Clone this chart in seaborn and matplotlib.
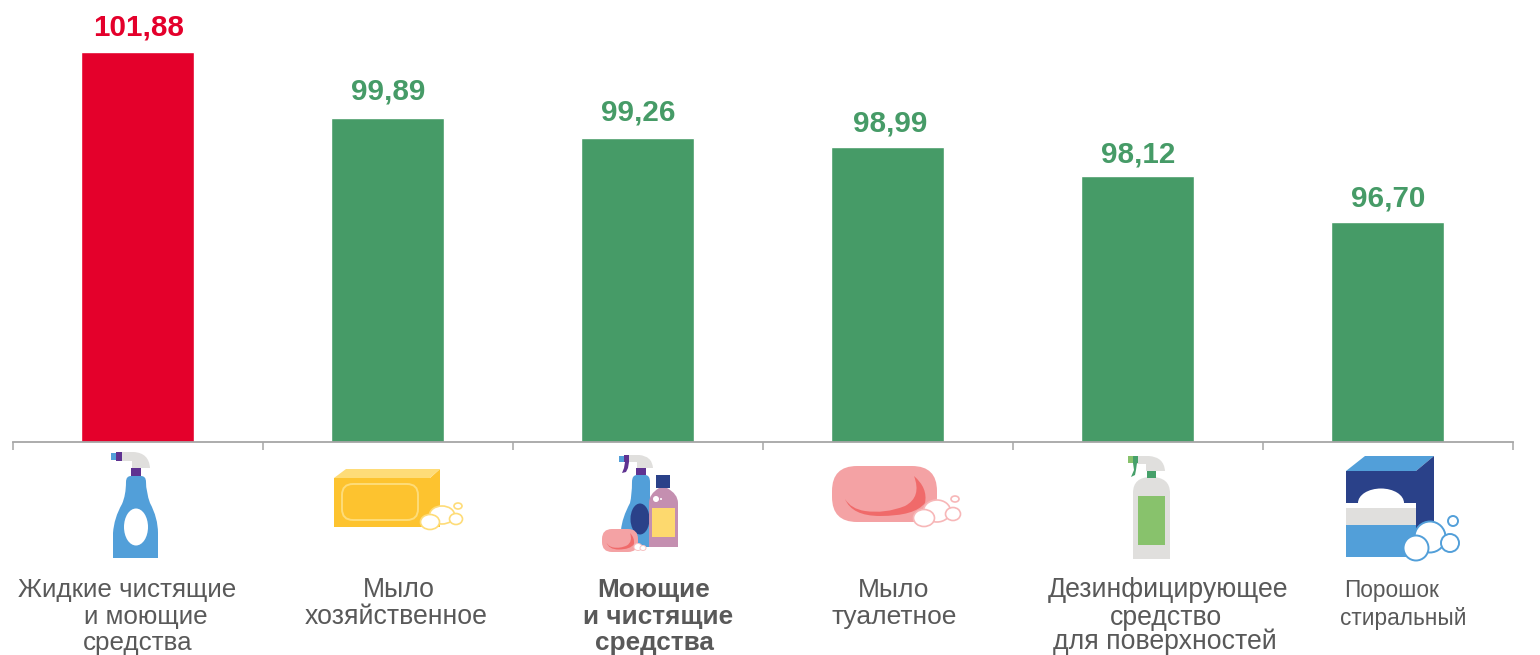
import matplotlib
matplotlib.use('Agg')
import matplotlib.pyplot as plt
import seaborn as sns
import pandas as pd
from matplotlib.patches import Polygon, Ellipse, Rectangle, FancyBboxPatch, PathPatch
from matplotlib.path import Path

# Data
categories = ['Жидкие чистящие и моющие средства', 'Мыло хозяйственное',
              'Моющие и чистящие средства', 'Мыло туалетное',
              'Дезинфицирующее средство для поверхностей', 'Порошок стиральный']
values = [101.88, 99.89, 99.26, 98.99, 98.12, 96.70]
value_labels = ['101,88', '99,89', '99,26', '98,99', '98,12', '96,70']
label_lines = [['Жидкие чистящие', 'и моющие', 'средства'],
               ['Мыло', 'хозяйственное'],
               ['Моющие', 'и чистящие', 'средства'],
               ['Мыло', 'туалетное'],
               ['Дезинфицирующее', 'средство', 'для поверхностей'],
               ['Порошок', 'стиральный']]

# Layout of the hand placed captions (pixels)
line_x = [[127, 146, 138], [399, 396], [654, 658, 654], [894, 894], [1168, 1166, 1165], [1392, 1403]]
line_y = [[590, 617, 643], [590, 617], [590, 617, 643], [590, 617], [590, 618, 642], [591, 619]]
line_size = [18.7, 19.2, 18.8, 19, 19.2, 16.3]
label_gap = [25, 26, 26, 24, 21, 24]
label_shift = [1, 1, 1, 3, 1, 1]

RED = '#E4002B'
GREEN = '#469B67'
GREY = '#595959'
BLUE = '#529FD9'
NAVY = '#2A4189'
PURPLE = '#5F3291'
LIGHT = '#E0DFDD'
PINK = '#F4A2A4'
DARKPINK = '#F06A6A'
YELLOW = '#FDC32F'
PALEYELLOW = '#FEDC78'

sns.set_theme(style='white')
plt.rcParams['font.family'] = ['Liberation Sans', 'DejaVu Sans']

fig = plt.figure(figsize=(15.4, 6.55), dpi=100)
ax = fig.add_axes([13 / 1540, (655 - 442) / 655, 1500 / 1540, 442 / 655])

df = pd.DataFrame({'category': categories, 'value': values})
colors = [RED] + [GREEN] * 5
sns.barplot(data=df, x='category', y='value', hue='category', palette=colors,
            legend=False, width=0.452, saturation=1, ax=ax)

ax.set_ylim(90, 103.48)
ax.set_xlim(-0.497, 5.503)
ax.set_xlabel('')
ax.set_ylabel('')
ax.set_yticks([])
ax.set_xticks([i - 0.497 for i in range(7)])
ax.set_xticklabels([])
ax.tick_params(axis='x', bottom=True, length=6, width=1.1, color='#A6A6A6')
sns.despine(ax=ax, left=True)
ax.spines['bottom'].set_color('#A6A6A6')
ax.spines['bottom'].set_linewidth(1.3)
ax.patch.set_alpha(0)

for i, (v, lab) in enumerate(zip(values, value_labels)):
    ax.annotate(lab, (i, v), xytext=(label_shift[i] * 0.72, label_gap[i] * 0.72), textcoords='offset points',
                ha='center', va='center', fontsize=21.3, fontweight='bold', color=colors[i])

# Overlay in pixel coordinates for captions and pictograms
ov = fig.add_axes([0, 0, 1, 1])
ov.set_xlim(0, 1540)
ov.set_ylim(655, 0)
ov.axis('off')
ov.patch.set_alpha(0)

for i, lines in enumerate(label_lines):
    for j, line in enumerate(lines):
        ov.text(line_x[i][j], line_y[i][j], line, ha='center', va='center',
                fontsize=line_size[i], color=GREY, fontweight='bold' if i == 2 else 'normal')


def poly(pts, color):
    ov.add_patch(Polygon(pts, closed=True, fc=color, ec='none'))


def rect(x0, y0, x1, y1, color):
    ov.add_patch(Rectangle((x0, y0), x1 - x0, y1 - y0, fc=color, ec='none'))


def oval(cx, cy, w, h, color, ec='none', lw=1.2):
    ov.add_patch(Ellipse((cx, cy), w, h, fc=color, ec=ec, lw=lw))


def rounded(x0, y0, x1, y1, r, fc, ec='none', lw=1.0):
    ov.add_patch(FancyBboxPatch((x0 + r, y0 + r), x1 - x0 - 2 * r, y1 - y0 - 2 * r,
                                boxstyle='round,pad=%g,rounding_size=%g' % (r, r),
                                fc=fc, ec=ec, lw=lw))


def curve(verts, codes, color):
    ov.add_patch(PathPatch(Path(verts, codes), fc=color, ec='none'))


M, L, C3, Z = Path.MOVETO, Path.LINETO, Path.CURVE3, Path.CLOSEPOLY


def spray_head(x0, x1, y0, y1, xn, yn, color):
    xm = x0 + 0.42 * (x1 - x0)
    curve([(x0, y0), (xm, y0), (x1 - 1, y0 + 1), (x1, y1), (xn, y1), (xn, yn), (x0, yn), (x0, y0)],
          [M, L, C3, C3, L, L, L, Z], color)


# crescent of the soap bar, in pixels of the big pictogram
cres_pts = [(845, 499), (852, 516), (880, 516), (915, 516), (925, 503), (928, 488), (914, 476),
            (922, 497), (905, 506), (885, 514), (865, 511), (851, 509), (845, 499)]
cres_codes = [M, C3, C3, C3, C3, C3, C3, C3, C3, C3, C3, C3, C3]


def crescent(x0, y0, sx, sy):
    curve([(x0 + (x - 832) * sx, y0 + (y - 466) * sy) for x, y in cres_pts], cres_codes, DARKPINK)


# Icon 1 - spray bottle
curve([(113, 558), (113, 533), (114, 518), (122, 504), (126, 495), (126, 482), (126, 476), (131, 476),
       (141, 476), (146, 476), (146, 482), (146, 492), (150, 503), (158, 518), (158, 533), (158, 558), (113, 558)],
      [M, L, C3, C3, C3, C3, C3, C3, L, C3, C3, C3, C3, C3, C3, L, Z], BLUE)
oval(136, 527, 24, 37, 'white')
rect(131, 468, 141, 476, PURPLE)
spray_head(122, 150, 452, 468, 132, 461, LIGHT)
rect(116, 452, 122, 461, PURPLE)
rect(111, 453, 116, 460, BLUE)

# Icon 2 - laundry soap
rect(334, 478, 430, 527, YELLOW)
poly([(430, 478), (440, 469), (440, 527), (430, 527)], YELLOW)
poly([(334, 478), (346, 469), (440, 469), (430, 478)], PALEYELLOW)
rounded(342, 484, 418, 520, 11, 'none', ec=PALEYELLOW, lw=1.4)
oval(442, 515, 25, 18, 'white', PALEYELLOW)
oval(430, 522, 19, 15, 'white', PALEYELLOW)
oval(456, 519, 13, 11, 'white', PALEYELLOW)
oval(458, 506, 8, 6, 'white', PALEYELLOW)

# Icon 3 - group of products
curve([(621, 547), (621, 530), (622, 518), (630, 503), (632, 495), (632, 482), (632, 475), (637, 475),
       (645, 475), (650, 475), (650, 482), (650, 547), (621, 547)],
      [M, L, C3, C3, C3, C3, C3, C3, L, C3, C3, L, Z], BLUE)
oval(640, 519, 19, 31, NAVY)
rect(636, 468, 646, 475, PURPLE)
spray_head(629, 653, 455, 468, 637, 462, LIGHT)
rect(624, 455, 629, 462, PURPLE)
rect(619, 456, 624, 462, BLUE)
poly([(625, 462), (629, 462), (628, 468), (626, 472), (622, 473), (624, 468)], PURPLE)
rect(656, 475, 670, 488, NAVY)
curve([(649, 547), (649, 503), (649, 494), (659, 488), (667, 488), (678, 494), (678, 503), (678, 547), (649, 547)],
      [M, L, C3, C3, L, C3, C3, L, Z], '#C48FB0')
rect(652, 508, 675, 537, '#FDD96E')
oval(656, 499, 6, 6, 'white')
oval(661, 499, 2, 2, 'white')
rounded(602, 529, 638, 552, 10, PINK)
crescent(602, 529, 0.343, 0.41)
oval(638, 547, 8, 7, 'white', '#F7C3C4', 0.7)
oval(643, 548, 6, 5, 'white', '#F7C3C4', 0.7)

# Icon 4 - toilet soap
rounded(832, 466, 937, 522, 25, PINK)
crescent(832, 466, 1, 1)
oval(937, 511, 27, 22, 'white', '#F7B7B8')
oval(924, 518, 21, 17, 'white', '#F7B7B8')
oval(953, 514, 15, 13, 'white', '#F7B7B8')
oval(955, 499, 8, 6, 'white', '#F7B7B8')

# Icon 5 - disinfectant
curve([(1133, 559), (1133, 493), (1133, 477), (1151, 477), (1170, 477), (1170, 493), (1170, 559), (1133, 559)],
      [M, L, C3, C3, C3, C3, L, Z], LIGHT)
rect(1138, 496, 1165, 545, '#88C26C')
rect(1147, 471, 1156, 478, '#46A06A')
spray_head(1137, 1165, 456, 471, 1146, 464, LIGHT)
rect(1128, 456, 1133, 463, '#88C26C')
rect(1133, 456, 1138, 463, '#46A06A')
poly([(1133, 463), (1137, 463), (1136, 470), (1135, 475), (1131, 477), (1134, 470)], '#46A06A')

# Icon 6 - washing powder
poly([(1346, 471), (1365, 456), (1434, 456), (1416, 471)], BLUE)
poly([(1416, 471), (1434, 456), (1434, 523), (1416, 536)], NAVY)
rect(1346, 471, 1416, 503, NAVY)
oval(1381, 503, 46, 29, 'white')
rect(1346, 503, 1416, 508, 'white')
rect(1346, 508, 1416, 525, LIGHT)
rect(1346, 525, 1416, 557, BLUE)
oval(1430, 537, 31, 31, 'white', BLUE, 1.4)
oval(1416, 548, 25, 25, 'white', BLUE, 1.4)
oval(1450, 543, 18, 18, 'white', BLUE, 1.4)
oval(1453, 521, 10, 10, 'white', BLUE, 1.4)

fig.savefig('out.png', dpi=100)
